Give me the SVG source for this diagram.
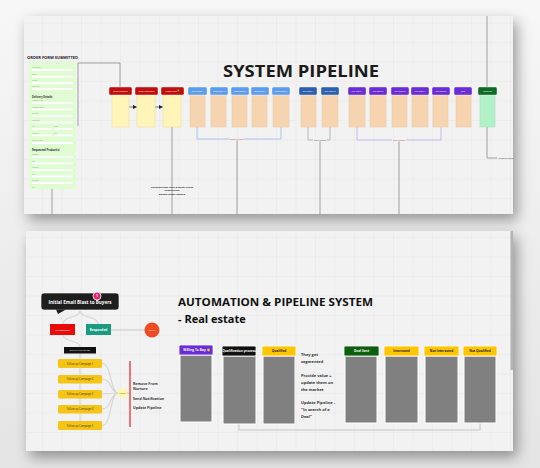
<svg xmlns="http://www.w3.org/2000/svg" width="540" height="468" viewBox="0 0 540 468">
<defs>
<pattern id="grid" width="19.5" height="19.5" patternUnits="userSpaceOnUse" x="4" y="4">
<path d="M19.5,0 V19.5 H0" fill="none" stroke="#e2e2e2" stroke-width="0.7"/>
</pattern>
<filter id="sh" x="-10%" y="-15%" width="125%" height="140%">
<feDropShadow dx="4" dy="6" stdDeviation="7" flood-color="#000" flood-opacity="0.38"/>
</filter>
<marker id="ar" markerWidth="4" markerHeight="4" refX="3.5" refY="2" orient="auto" markerUnits="userSpaceOnUse">
<path d="M0,0 L4,2 L0,4 Z" fill="#222"/>
</marker>
<linearGradient id="bg" x1="0" y1="0" x2="0" y2="1">
<stop offset="0" stop-color="#f7f7f7"/>
<stop offset="1" stop-color="#e4e4e4"/>
</linearGradient>
</defs>
<style>
.ff{font-family:"Open Sans","Noto Sans","Liberation Sans",sans-serif}
.b{font-weight:700}
.hd{stroke:#fff;stroke-width:0.4}
.redh{fill:#c20d0d}
.blh{fill:#5b9cf0}
.dbh{fill:#2d5fb0}
.puh{fill:#6a2bd8}
.grh{fill:#0d6a24}
.ybody{fill:#fff5b8;stroke:#e6d9a0;stroke-width:0.5}
.pbody{fill:#f7d4b0;stroke:#e8c49e;stroke-width:0.5}
.gbody{fill:#b2f0c8;stroke:#a0dcb4;stroke-width:0.5}
.ht{font-size:2px;fill:#fff;text-anchor:middle}
.fbar{fill:#fff}
.fl{font-size:1.8px;fill:#9a9a9a}
.fh{font-size:2.6px;fill:#333;font-weight:700}
.vl{fill:none;stroke:#8c8c8c;stroke-width:0.8}
.gb{fill:#808080;stroke:#fff;stroke-width:1}
.bh{stroke:#fff;stroke-width:0.8}
.bt{font-size:3.2px;text-anchor:middle;font-weight:700}
.yl{fill:#f6c414}
.yt{font-size:2.6px;fill:#333;text-anchor:middle}
.st{font-size:4px;fill:#333;font-weight:700}
.lt{font-size:3.6px;fill:#333;font-weight:700}
.cv{fill:none;stroke:#d6d6d6;stroke-width:1.1}
</style>
<rect width="540" height="468" fill="url(#bg)"/>

<!-- TOP PANEL -->
<g id="top-panel">
<rect x="24" y="16" width="489" height="198" fill="#f2f2f2" filter="url(#sh)"/>
<rect x="24" y="16" width="489" height="198" fill="url(#grid)"/>
<text x="223" y="77" class="ff b" font-size="16.5" fill="#1a1a1a" textLength="156" lengthAdjust="spacingAndGlyphs">SYSTEM PIPELINE</text>
</g>

<g id="top-connectors">
<path class="vl" d="M78,126 V63 H120 V87"/>
<path class="vl" d="M52,189 V214"/>
<path class="vl" d="M172,127 V214"/>
<line x1="129" y1="107" x2="136.5" y2="107" stroke="#555" stroke-width="0.8" marker-end="url(#ar)"/>
<line x1="155" y1="107" x2="162.5" y2="107" stroke="#555" stroke-width="0.8" marker-end="url(#ar)"/>
<path d="M197,127 V139 H281 V127" fill="none" stroke="#a9c3ee" stroke-width="1"/>
<path class="vl" d="M237,140 V214"/>
<path d="M308,127 V140 H330 V127" fill="none" stroke="#a8a8a8" stroke-width="0.8"/>
<path class="vl" d="M320,141 V214"/>
<path d="M357,127 V140 H441 V127" fill="none" stroke="#c9b6ec" stroke-width="1"/>
<path class="vl" d="M399,140 V214"/>
<path class="vl" d="M487,16 V87"/>
<path class="vl" d="M487,127 V158 H497"/>
</g>

<g id="top-labels">
<rect x="230" y="138" width="14" height="2.4" fill="#f2f2f2"/>
<text x="237" y="140" class="ff" font-size="2" fill="#d23030" text-anchor="middle">Status Update</text>
<rect x="313" y="139" width="14" height="2.4" fill="#f2f2f2"/>
<text x="320" y="141" class="ff" font-size="2" fill="#444" text-anchor="middle">Send Update</text>
<rect x="392" y="139" width="14" height="2.4" fill="#f2f2f2"/>
<text x="399" y="141" class="ff" font-size="2" fill="#d23030" text-anchor="middle">Send Update</text>
<text x="498" y="159" class="ff" font-size="2" fill="#333">Upload to portal</text>
<text x="172" y="188" class="ff b" font-size="2.3" fill="#222" text-anchor="middle" textLength="42" lengthAdjust="spacingAndGlyphs">Operations team check &amp; update records</text>
<text x="172" y="191" class="ff b" font-size="2.3" fill="#222" text-anchor="middle" textLength="15" lengthAdjust="spacingAndGlyphs">between stages</text>
<text x="172" y="194.5" class="ff b" font-size="2.3" fill="#222" text-anchor="middle" textLength="26" lengthAdjust="spacingAndGlyphs">before order moves</text>
</g>

<g id="order-form">
<text x="27" y="59" class="ff b" font-size="3.6" fill="#222" textLength="51" lengthAdjust="spacingAndGlyphs">ORDER FORM SUBMITTED</text>
<rect x="29" y="62" width="47" height="127" fill="#e0fcd2"/>
<text x="32" y="68" class="ff fl">Full Name</text><rect class="fbar" x="32" y="69.2" width="41" height="1.8"/>
<text x="32" y="74.5" class="ff fl">Email</text><rect class="fbar" x="32" y="75.8" width="41" height="1.8"/>
<text x="32" y="81" class="ff fl">Phone</text><rect class="fbar" x="32" y="82.2" width="41" height="1.8"/>
<text x="32" y="87" class="ff fl">Company</text><rect class="fbar" x="32" y="88.2" width="41" height="1.8"/>
<text x="32" y="98" class="ff fh">Delivery Details</text>
<text x="32" y="101" class="ff fl">Address Line 1</text><rect class="fbar" x="32" y="102.2" width="41" height="1.8"/>
<text x="32" y="107.5" class="ff fl">Address Line 2</text><rect class="fbar" x="32" y="108.6" width="41" height="1.8"/>
<text x="32" y="114" class="ff fl">Suburb</text><rect class="fbar" x="32" y="115.2" width="41" height="1.8"/>
<text x="32" y="120.5" class="ff fl">Postcode</text><rect class="fbar" x="32" y="121.5" width="41" height="1.8"/>
<text x="32" y="127" class="ff fl">City</text><text x="54" y="127" class="ff fl">State</text>
<rect class="fbar" x="32" y="128.2" width="20" height="1.8"/><rect class="fbar" x="54" y="128.2" width="19" height="1.8"/>
<text x="32" y="133.5" class="ff fl">Country</text><text x="54" y="133.5" class="ff fl">Zip</text>
<rect class="fbar" x="32" y="134.5" width="20" height="1.8"/><rect class="fbar" x="54" y="134.5" width="19" height="1.8"/>
<text x="32" y="141" class="ff fl">Delivery Date</text><rect class="fbar" x="32" y="142.2" width="41" height="1.8"/>
<text x="32" y="151" class="ff fh">Requested Product(s)</text>
<text x="32" y="155" class="ff fl">Product</text><rect class="fbar" x="32" y="156.2" width="41" height="1.8"/>
<text x="32" y="161.5" class="ff fl">QTY</text><rect class="fbar" x="32" y="162.5" width="41" height="1.8"/>
<text x="32" y="168" class="ff fl">Product</text><rect class="fbar" x="32" y="169.2" width="41" height="1.8"/>
<text x="32" y="174.5" class="ff fl">QTY</text><rect class="fbar" x="32" y="175.5" width="41" height="1.8"/>
<text x="32" y="181" class="ff fl">Product</text><rect class="fbar" x="32" y="182.2" width="41" height="1.8"/>
<text x="32" y="187.5" class="ff fl">QTY</text>
</g>

<g id="stage-red-1"><rect class="ybody" x="112" y="94" width="17" height="33"/><rect class="redh hd" x="109" y="87" width="23" height="8" rx="1.5"/><text class="ff ht" x="120.5" y="91.8">Order Received</text></g>
<g id="stage-red-2"><rect class="ybody" x="137" y="94" width="18" height="33"/><rect class="redh hd" x="135" y="87" width="23" height="8" rx="1.5"/><text class="ff ht" x="146.5" y="91.8">Order Confirmed</text></g>
<g id="stage-red-3"><rect class="ybody" x="163" y="94" width="18" height="33"/><rect class="redh hd" x="161" y="87" width="23" height="8" rx="1.5"/><text class="ff ht" x="171" y="91.8">Invoice Sent</text><rect x="177.5" y="89.5" width="1.5" height="2" fill="#3ccf5a"/></g>

<g id="stage-blue-1"><rect class="pbody" x="190" y="94" width="15" height="33"/><rect class="blh hd" x="188" y="87" width="19" height="8" rx="1.5"/><text class="ff ht" x="197.5" y="91.8">Sales Stage 1</text></g>
<g id="stage-blue-2"><rect class="pbody" x="211" y="94" width="15" height="33"/><rect class="blh hd" x="210" y="87" width="18" height="8" rx="1.5"/><text class="ff ht" x="219" y="91.8">Sales Stage 2</text></g>
<g id="stage-blue-3"><rect class="pbody" x="232" y="94" width="15" height="33"/><rect class="blh hd" x="231" y="87" width="18" height="8" rx="1.5"/><text class="ff ht" x="240" y="91.8">Sales Stage 3</text></g>
<g id="stage-blue-4"><rect class="pbody" x="252" y="94" width="15" height="33"/><rect class="blh hd" x="251" y="87" width="18" height="8" rx="1.5"/><text class="ff ht" x="260" y="91.8">Sales Stage 4</text></g>
<g id="stage-blue-5"><rect class="pbody" x="273" y="94" width="16" height="33"/><rect class="blh hd" x="272" y="87" width="18" height="8" rx="1.5"/><text class="ff ht" x="281" y="91.8">Sales Stage 5</text></g>

<g id="stage-dblue-1"><rect class="pbody" x="301" y="94" width="15" height="33"/><rect class="dbh hd" x="299" y="87" width="18" height="8" rx="1.5"/><text class="ff ht" x="308" y="91.8">Sub Stage A</text></g>
<g id="stage-dblue-2"><rect class="pbody" x="322" y="94" width="16" height="33"/><rect class="dbh hd" x="321" y="87" width="18" height="8" rx="1.5"/><text class="ff ht" x="330" y="91.8">Sub Stage B</text></g>

<g id="stage-purple-1"><rect class="pbody" x="349" y="94" width="16" height="33"/><rect class="puh hd" x="348" y="87" width="18" height="8" rx="1.5"/><text class="ff ht" x="357" y="91.8">Sub Stage 1</text></g>
<g id="stage-purple-2"><rect class="pbody" x="370" y="94" width="16" height="33"/><rect class="puh hd" x="369" y="87" width="18" height="8" rx="1.5"/><text class="ff ht" x="378" y="91.8">Sub Stage 2</text></g>
<g id="stage-purple-3"><rect class="pbody" x="392" y="94" width="15" height="33"/><rect class="puh hd" x="391" y="87" width="18" height="8" rx="1.5"/><text class="ff ht" x="400" y="91.8">Sub Stage 3</text></g>
<g id="stage-purple-4"><rect class="pbody" x="412" y="94" width="16" height="33"/><rect class="puh hd" x="411" y="87" width="18" height="8" rx="1.5"/><text class="ff ht" x="420" y="91.8">Sub Stage 4</text></g>
<g id="stage-purple-5"><rect class="pbody" x="433" y="94" width="15" height="33"/><rect class="puh hd" x="432" y="87" width="18" height="8" rx="1.5"/><text class="ff ht" x="441" y="91.8">Sub Stage 5</text></g>
<g id="stage-purple-6"><rect class="pbody" x="456" y="94" width="15" height="33"/><rect class="puh hd" x="454" y="87" width="18" height="8" rx="1.5"/><text class="ff ht" x="463" y="91.8">Sent</text></g>
<g id="stage-green"><rect class="gbody" x="480" y="94" width="15" height="33"/><rect class="grh hd" x="478" y="87" width="19" height="8" rx="1.5"/><text class="ff ht" x="487.5" y="91.8">Complete</text></g>

<!-- BOTTOM PANEL -->
<g id="bottom-panel">
<rect x="26" y="231" width="487" height="220" fill="#f2f2f2" filter="url(#sh)"/>
<rect x="26" y="231" width="487" height="220" fill="url(#grid)"/>
<rect x="510.5" y="231" width="2.5" height="139" fill="#b4b4b4"/>
<text x="178" y="306" class="ff b" font-size="11" fill="#111" textLength="195" lengthAdjust="spacingAndGlyphs">AUTOMATION &amp; PIPELINE SYSTEM</text>
<text x="178" y="323" class="ff b" font-size="11" fill="#111">- Real estate</text>
</g>

<g id="bottom-connectors">
<path class="cv" d="M80,311 C80,318 63,316 63,324"/>
<path class="cv" d="M80,311 C80,318 98,316 98,324"/>
<line x1="111" y1="330" x2="145" y2="330" stroke="#d6d6d6" stroke-width="1.4"/>
<path class="cv" d="M63,335 C63,342 80,340 80,347"/>
<line x1="80" y1="353" x2="80" y2="430" stroke="#d6d6d6" stroke-width="1.1"/>
<path class="cv" d="M102,363.5 C112,363.5 110,393 118,393"/>
<path class="cv" d="M102,379 C112,379 110,393 118,393"/>
<path class="cv" d="M102,394 L118,393"/>
<path class="cv" d="M102,409 C112,409 110,393 118,393"/>
<path class="cv" d="M102,425.5 C112,425.5 110,393 118,393"/>
<line x1="127" y1="393" x2="130" y2="393" stroke="#aaa" stroke-width="0.6"/>
<path d="M239,423 V430 H480 V423" fill="none" stroke="#d4d4d4" stroke-width="1.6"/>
</g>

<g id="email-blast">
<rect x="41" y="293" width="78" height="17" rx="3" fill="#1e1e1e" stroke="#fff" stroke-width="0.6"/>
<path d="M56,309.5 L66,309.5 L58,314 Z" fill="#1e1e1e"/>
<text x="80" y="303.6" class="ff b" font-size="4.4" fill="#fff" text-anchor="middle" textLength="63" lengthAdjust="spacingAndGlyphs">Initial Email Blast to Buyers</text>
<circle cx="97" cy="296" r="4" fill="#e6246e" stroke="#fff" stroke-width="0.8"/>
<text x="97" y="297.3" class="ff b" font-size="3.5" fill="#fff" text-anchor="middle">1</text>
</g>
<g id="no-response"><rect x="50" y="324" width="25" height="11" fill="#ea0a0a"/><text x="62.5" y="330.8" class="ff" font-size="2.4" fill="#fff" text-anchor="middle">No Response</text></g>
<g id="responded"><rect x="86" y="324" width="25" height="11" fill="#1a9a7e"/><text x="98.5" y="330.9" class="ff b" font-size="3.2" fill="#fff" text-anchor="middle">Responded</text></g>
<g id="notify"><circle cx="152" cy="330" r="7.5" fill="#f04a22"/><text x="152" y="331" class="ff" font-size="2.4" fill="#fff" text-anchor="middle">Notify</text></g>
<g id="email-campaign"><rect x="64" y="347" width="32" height="6.5" fill="#111"/><text x="80" y="351.2" class="ff" font-size="2" fill="#fff" text-anchor="middle">EMAIL CAMPAIGN SET</text></g>
<g id="follow-1"><rect class="yl" x="58" y="359" width="44" height="9" rx="1.5"/><text class="ff yt" x="80" y="364.5">Follow up Campaign 1</text></g>
<g id="follow-2"><rect class="yl" x="58" y="375" width="44" height="8.5" rx="1.5"/><text class="ff yt" x="80" y="380.2">Follow up Campaign 2</text></g>
<g id="follow-3"><rect class="yl" x="58" y="390" width="44" height="8.5" rx="1.5"/><text class="ff yt" x="80" y="395.2">Follow up Campaign 3</text></g>
<g id="follow-4"><rect class="yl" x="58" y="405" width="44" height="8.5" rx="1.5"/><text class="ff yt" x="80" y="410.2">Follow up Campaign 4</text></g>
<g id="follow-5"><rect class="yl" x="58" y="421" width="44" height="9" rx="1.5"/><text class="ff yt" x="80" y="426.5">Follow up Campaign 5</text></g>
<g id="nurture"><rect x="118" y="389" width="9" height="8" fill="#fff6a8"/><text x="122.5" y="393.8" class="ff" font-size="1.8" fill="#555" text-anchor="middle">Nurture</text></g>
<g id="actions">
<line x1="130" y1="361" x2="130" y2="427" stroke="#e84a4a" stroke-width="1.5"/>
<text x="133" y="385" class="ff lt">Remove From</text>
<text x="133" y="390" class="ff lt">Nurture</text>
<text x="133" y="399.5" class="ff lt">Send Notification</text>
<text x="133" y="409" class="ff lt">Update Pipeline</text>
</g>

<g id="col-willing"><rect class="gb" x="180" y="355" width="32" height="67"/><rect class="bh" x="179" y="345" width="34" height="10" rx="1.5" fill="#6a2bd8"/><text class="ff bt" x="194.5" y="351.2" fill="#fff">Willing To Buy</text><circle cx="208.5" cy="350" r="1.4" fill="#f6c414"/></g>
<g id="col-qualification"><rect class="gb" x="223" y="356" width="33" height="68"/><rect class="bh" x="222" y="346" width="34" height="10" rx="1.5" fill="#111"/><text class="ff bt" x="239" y="352" fill="#fff" font-size="2.6">Qualification process</text></g>
<g id="col-qualified"><rect class="gb" x="263" y="356" width="32" height="68"/><rect class="bh" x="262" y="346" width="34" height="10" rx="1.5" fill="#fec600"/><text class="ff bt" x="279" y="352.2" fill="#222">Qualified</text></g>
<g id="qualified-notes">
<text x="301" y="356" class="ff st">They get</text>
<text x="301" y="363" class="ff st">segmented</text>
<text x="301" y="377" class="ff st">Provide value +</text>
<text x="301" y="384" class="ff st">update them on</text>
<text x="301" y="391" class="ff st">the market</text>
<text x="301" y="404" class="ff st">Update Pipeline -</text>
<text x="301" y="411" class="ff st">"In search of a</text>
<text x="301" y="418" class="ff st">Deal"</text>
</g>
<g id="col-deal-sent"><rect class="gb" x="345" y="356" width="32" height="67"/><rect class="bh" x="344" y="346" width="35" height="10" rx="1.5" fill="#0d5e0d"/><text class="ff bt" x="361.5" y="352.2" fill="#fff">Deal Sent</text></g>
<g id="col-interested"><rect class="gb" x="385" y="356" width="33" height="67"/><rect class="bh" x="384" y="346" width="35" height="10" rx="1.5" fill="#fec600"/><text class="ff bt" x="401.5" y="352.2" fill="#222" font-size="2.8">Interested</text></g>
<g id="col-not-interested"><rect class="gb" x="425" y="356" width="33" height="67"/><rect class="bh" x="424" y="346" width="35" height="10" rx="1.5" fill="#fec600"/><text class="ff bt" x="441.5" y="352.2" fill="#222">Not Interested</text></g>
<g id="col-not-qualified"><rect class="gb" x="464" y="356" width="32" height="67"/><rect class="bh" x="463" y="346" width="34" height="10" rx="1.5" fill="#fec600"/><text class="ff bt" x="480" y="352.2" fill="#222">Not Qualified</text></g>
</svg>
